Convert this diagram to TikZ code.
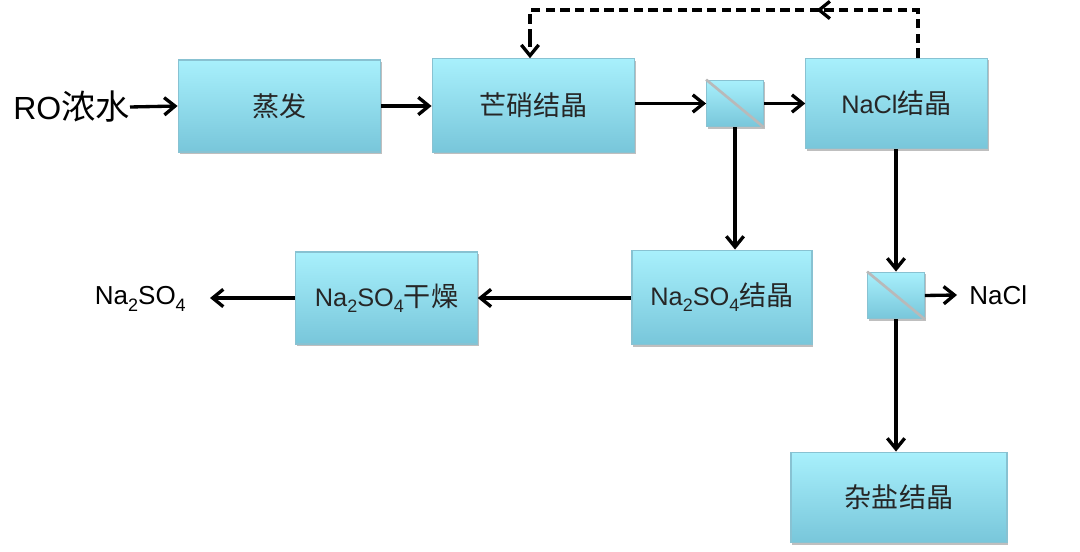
\documentclass[tikz,border=0pt]{standalone}
\usepackage{fontspec}
\setmainfont{Liberation Sans}
\newfontfamily\cjk[Scale=1.07]{Noto Sans CJK SC}
\usetikzlibrary{arrows.meta,shadows,decorations.markings}
\newcommand\subs[1]{\raisebox{-0.45ex}{\fontsize{13.5}{13.5}\selectfont #1}}
\definecolor{boxtop}{HTML}{A8F0FC}
\definecolor{boxbot}{HTML}{78C6DA}
\definecolor{boxline}{HTML}{88C2D2}
\tikzset{
  procbox/.style={rectangle, top color=boxtop, bottom color=boxbot, draw=boxline, line width=0.9pt,
    drop shadow={shadow xshift=1pt, shadow yshift=-1.5pt, opacity=0.25, fill=black},
    inner sep=0pt, font=\fontsize{19}{21}\selectfont, text=black!85},
  sepbox/.style={procbox, minimum width=42.5pt, minimum height=35pt},
  tipa/.tip={Straight Barb[length=8pt,width=13pt,line width=2.5pt]},
  flow/.style={line width=2.5pt, -tipa},
  plain/.style={font=\fontsize{19.5}{22}\selectfont, inner sep=0pt},
}
\begin{document}
\begin{tikzpicture}[x=0.75pt,y=-0.75pt]
\useasboundingbox (0,0) rectangle (1080,552);
% boxes
\node[procbox, minimum width=152pt, minimum height=69pt] (evap) at (279.5,106) {\cjk 蒸发};
\node[procbox, minimum width=152pt, minimum height=70pt] (crys) at (533.5,105.5) {\cjk 芒硝结晶};
\node[sepbox] (sepa) at (735,103.5) {};
\node[procbox, minimum width=136pt, minimum height=68pt] (nacl) at (896.5,103.5) {NaCl{\cjk 结晶}};
\node[procbox, minimum width=135pt, minimum height=71pt] (nsc) at (722,297.5) {Na\subs{2}SO\subs{4}{\cjk 结晶}};
\node[procbox, minimum width=136pt, minimum height=69pt] (dry) at (386.5,298) {Na\subs{2}SO\subs{4}{\cjk 干燥}};
\node[sepbox] (sepb) at (896,295.5) {};
\node[procbox, minimum width=162pt, minimum height=68pt] (mix) at (899,497.5) {\cjk 杂盐结晶};
% separator membranes
\draw[line width=2pt, gray!55] (sepa.north west) -- (sepa.south east);
\draw[line width=2pt, gray!55] (sepb.north west) -- (sepb.south east);
% labels
\node[plain, font=\fontsize{24}{27}\selectfont, anchor=east] (ro) at (130,107) {RO{\cjk 浓水}};
\node[plain, anchor=east] (out1) at (186,299) {Na\subs{2}SO\subs{4}};
\node[plain, anchor=west] (out2) at (969,295) {NaCl};
\coordinate (out1e) at (210,298);
\coordinate (out2w) at (957,295);
% flows
\draw[flow] (ro.east) -- (evap.west);
\draw[flow] (evap.east) -- (crys.west |- evap.east);
\draw[flow] (crys.east |- sepa.west) -- (sepa.west);
\draw[flow] (sepa.east) -- (nacl.west |- sepa.east);
\draw[flow] (sepa.south) -- (sepa.south |- nsc.north);
\draw[flow] (nsc.west |- dry.east) -- (dry.east);
\draw[flow] (dry.west) -- (out1e);
\draw[flow] (sepb.north |- nacl.south) -- (sepb.north);
\draw[flow] (sepb.east) -- (out2w);
\draw[flow] (sepb.south) -- (sepb.south |- mix.north);
% dashed recycle
\draw[line width=2.5pt, dash pattern=on 7pt off 4pt,
  postaction={decorate, decoration={markings, mark=at position 0.32 with {\arrow[solid]{tipa}}}}]
  (nacl.north -| 918,0) -- (918,10) -- (530,10) -- (530,40);
\draw[line width=2.5pt, dash pattern=on 7pt off 4pt, -tipa]
  (530,38) -- (crys.north -| 530,0);
\end{tikzpicture}
\end{document}
